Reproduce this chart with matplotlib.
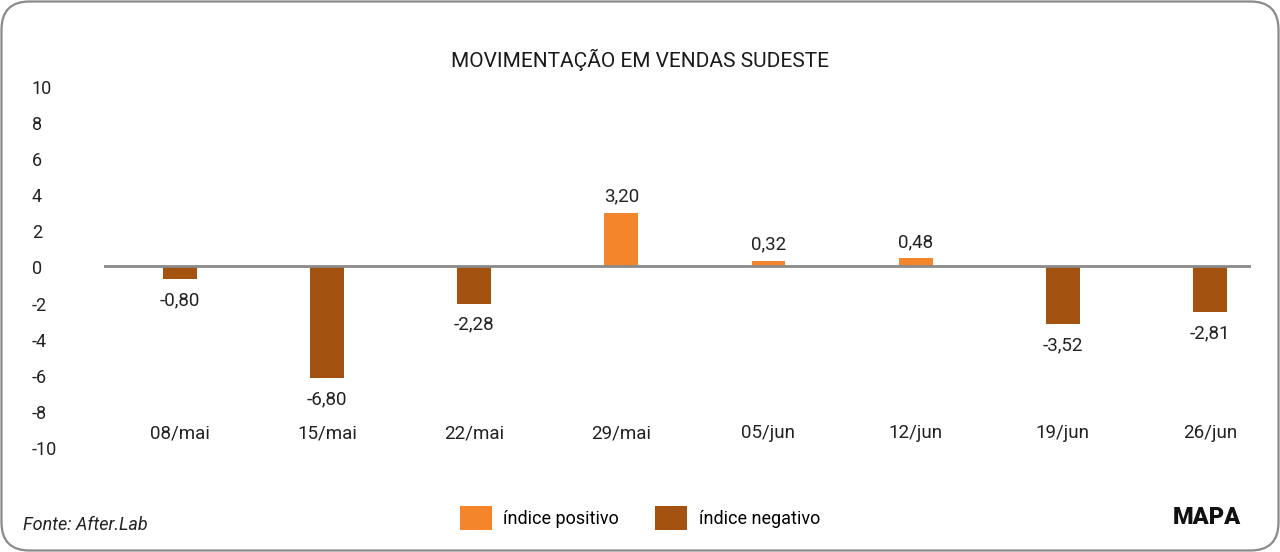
import matplotlib
matplotlib.use("Agg")
import matplotlib.pyplot as plt
from matplotlib.patches import Patch, FancyBboxPatch

# Data
dates = ["08/mai", "15/mai", "22/mai", "29/mai", "05/jun", "12/jun", "19/jun", "26/jun"]
values = [-0.80, -6.80, -2.28, 3.20, 0.32, 0.48, -3.52, -2.81]
y_ticks = [10, 8, 6, 4, 2, 0, -2, -4, -6, -8, -10]

POS_COLOR = "#F5852A"
NEG_COLOR = "#A3530F"
GRAY = "#8a8a8a"

plt.rcParams['font.family'] = ['Roboto', 'DejaVu Sans']

fig = plt.figure(figsize=(12.8, 5.52), dpi=100)
ax = fig.add_axes([104 / 1280, 1 - 448 / 552, 1147 / 1280, 361 / 552])

x = list(range(len(dates)))
colors = [POS_COLOR if v >= 0 else NEG_COLOR for v in values]
ax.bar(x, values, width=0.23, color=colors, zorder=2)
ax.axhline(0, color=GRAY, lw=2, zorder=3)

ax.set_xlim(-0.517, 7.28)
ax.set_ylim(-11.0, 10.8)

for xi, v in zip(x, values):
    lab = f"{v:.2f}".replace(".", ",")
    if v >= 0:
        ax.annotate(lab, (xi, v), xytext=(0, 7), textcoords="offset pixels",
                    ha="center", va="bottom", fontsize=13.5, color="#222222")
    else:
        ax.annotate(lab, (xi, v), xytext=(0, -12), textcoords="offset pixels",
                    ha="center", va="top", fontsize=13.5, color="#222222")

ax.set_xticks(x, labels=dates)
ax.tick_params(axis="x", length=0, pad=-17, labelsize=13.5, labelcolor="#222222")
ax.set_yticks([])
for s in ax.spines.values():
    s.set_visible(False)

# separate label axis for the value scale (-10..10)
ax2 = ax.twinx()
ax2.set_ylim(-10, 10)
ax2.yaxis.tick_left()
ax2.set_yticks(y_ticks, labels=[str(t) for t in y_ticks])
ax2.tick_params(axis="y", length=0, pad=52, labelsize=13, labelcolor="#222222")
for t in ax2.get_yticklabels():
    t.set_ha("left")
for s in ax2.spines.values():
    s.set_visible(False)

fig.text(0.5, 1 - 60 / 552, "MOVIMENTAÇÃO EM VENDAS SUDESTE", ha="center", va="center",
         fontsize=15, color="#1a1a1a")

handles = [Patch(facecolor=POS_COLOR, label="índice positivo"),
           Patch(facecolor=NEG_COLOR, label="índice negativo")]
fig.legend(handles=handles, loc="center", bbox_to_anchor=(640 / 1280, 1 - 518 / 552),
           ncol=2, frameon=False, fontsize=13, handlelength=1.75, handleheight=1.75,
           handletextpad=0.65, columnspacing=2.0)

fig.text(23 / 1280, 1 - 525 / 552, "Fonte: After.Lab", ha="left", va="center",
         fontsize=13, style="italic", color="#222222")
fig.text(1207 / 1280, 1 - 518 / 552, "MAPA", ha="center", va="center",
         fontsize=17, fontweight="heavy", color="#111111")

border = FancyBboxPatch((0.015, 0.015), 12.77, 5.49,
                        boxstyle="round,pad=0,rounding_size=0.28",
                        transform=fig.dpi_scale_trans, fill=False,
                        edgecolor=GRAY, lw=1.6)
fig.add_artist(border)

fig.savefig("out.png", dpi=100)
